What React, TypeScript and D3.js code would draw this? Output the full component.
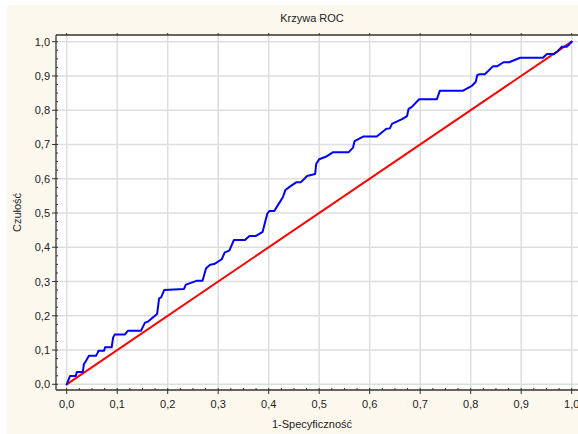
import React from "react";
import * as d3 from "d3";

const rocX = [0, 0.0065, 0.018, 0.02, 0.032, 0.034, 0.037, 0.044, 0.058, 0.061, 0.063, 0.074, 0.076, 0.089, 0.092, 0.095, 0.115, 0.121, 0.147, 0.155, 0.161, 0.179, 0.183, 0.187, 0.193, 0.232, 0.236, 0.257, 0.269, 0.276, 0.284, 0.292, 0.307, 0.313, 0.322, 0.331, 0.353, 0.362, 0.375, 0.388, 0.397, 0.401, 0.411, 0.417, 0.428, 0.433, 0.442, 0.455, 0.464, 0.476, 0.492, 0.494, 0.5, 0.513, 0.527, 0.558, 0.567, 0.57, 0.587, 0.614, 0.633, 0.64, 0.644, 0.664, 0.674, 0.677, 0.683, 0.698, 0.733, 0.739, 0.785, 0.803, 0.81, 0.813, 0.818, 0.828, 0.844, 0.852, 0.865, 0.876, 0.898, 0.943, 0.951, 0.965, 0.973, 0.98, 0.99, 0.995, 1.0];
const rocY = [0, 0.024, 0.024, 0.036, 0.036, 0.059, 0.065, 0.083, 0.083, 0.091, 0.098, 0.098, 0.108, 0.108, 0.137, 0.145, 0.145, 0.156, 0.156, 0.18, 0.183, 0.205, 0.251, 0.254, 0.275, 0.278, 0.291, 0.302, 0.302, 0.339, 0.349, 0.351, 0.365, 0.385, 0.39, 0.421, 0.421, 0.433, 0.433, 0.445, 0.497, 0.506, 0.506, 0.52, 0.546, 0.567, 0.577, 0.59, 0.59, 0.608, 0.614, 0.643, 0.657, 0.664, 0.677, 0.677, 0.691, 0.71, 0.723, 0.723, 0.746, 0.747, 0.76, 0.774, 0.783, 0.804, 0.809, 0.832, 0.832, 0.857, 0.857, 0.872, 0.883, 0.903, 0.905, 0.905, 0.928, 0.928, 0.94, 0.94, 0.953, 0.953, 0.964, 0.964, 0.973, 0.985, 0.985, 0.992, 1.0];
const refX = [0, 1];
const refY = [0, 1];
const tickValues = [0, 0.1, 0.2, 0.3, 0.4, 0.5, 0.6, 0.7, 0.8, 0.9, 1.0];
const tickLabels = ["0,0", "0,1", "0,2", "0,3", "0,4", "0,5", "0,6", "0,7", "0,8", "0,9", "1,0"];
const minorTicks = d3.range(0, 41).map((i) => i * 0.025);

const W = 578;
const H = 434;
const left = 56;
const top = 35;
const bottom = 390;
const right = 590;

export default function App() {
  const x = d3.scaleLinear().domain([0, 1]).range([66.7, 571.7]);
  const y = d3.scaleLinear().domain([0, 1]).range([384.3, 41.7]);
  const line = d3
    .line<number>()
    .x((_, i) => x(rocX[i]))
    .y((d) => y(d));
  const refLine = d3
    .line<number>()
    .x((_, i) => x(refX[i]))
    .y((d) => y(d));
  const font = "'Liberation Sans', Arial, sans-serif";

  return (
    <svg
      width={W}
      height={H}
      style={{ position: "absolute", left: 0, top: 0, display: "block" }}
      fontFamily={font}
    >
      <rect x={0} y={0} width={W} height={H} fill="#ffffff" />
      <rect x={7} y={5} width={W - 7} height={H - 5} fill="#fdf8ee" />
      <rect x={left} y={top} width={right - left} height={bottom - top} fill="#ffffff" />
      <defs>
        <clipPath id="plotclip">
          <rect x={left} y={top} width={right - left} height={bottom - top} />
        </clipPath>
      </defs>
      {/* grid */}
      <g stroke="#dedede" strokeWidth={1.5}>
        {tickValues.map((t, i) => (
          <line key={"gx" + i} x1={x(t)} x2={x(t)} y1={top} y2={bottom} />
        ))}
        {tickValues.map((t, i) => (
          <line key={"gy" + i} x1={left} x2={right} y1={y(t)} y2={y(t)} />
        ))}
      </g>
      {/* curves */}
      <g clipPath="url(#plotclip)" fill="none" strokeLinejoin="round" strokeLinecap="round">
        <path d={refLine(refY) || ""} stroke="#ff0000" strokeWidth={2} />
        <path d={line(rocY) || ""} stroke="#0000ff" strokeWidth={2} />
      </g>
      {/* frame */}
      <g stroke="#333333" strokeWidth={1.3}>
        <line x1={left} x2={left} y1={top} y2={bottom} />
        <line x1={left} x2={right} y1={bottom} y2={bottom} />
        <line x1={left} x2={right} y1={top} y2={top} />
      </g>
      {/* ticks */}
      <g stroke="#333333" strokeWidth={1}>
        {tickValues.map((t, i) => (
          <line key={"tx" + i} x1={x(t)} x2={x(t)} y1={bottom} y2={bottom + 4} />
        ))}
        {tickValues.map((t, i) => (
          <line key={"tt" + i} x1={x(t)} x2={x(t)} y1={top} y2={top - 2} />
        ))}
        {tickValues.map((t, i) => (
          <line key={"ty" + i} x1={left} x2={left - 4} y1={y(t)} y2={y(t)} />
        ))}
        {minorTicks.map((t, i) => (
          <line key={"mx" + i} x1={x(t)} x2={x(t)} y1={bottom} y2={bottom - 2} />
        ))}
        {minorTicks.map((t, i) => (
          <line key={"my" + i} x1={left} x2={left + 2} y1={y(t)} y2={y(t)} />
        ))}
      </g>
      {/* tick labels */}
      <g fontSize={11} fill="#222222">
        {tickValues.map((t, i) => (
          <text key={"lx" + i} x={x(t)} y={bottom + 18} textAnchor="middle">
            {tickLabels[i]}
          </text>
        ))}
        {tickValues.map((t, i) => (
          <text key={"ly" + i} x={left - 6} y={y(t) + 4} textAnchor="end">
            {tickLabels[i]}
          </text>
        ))}
      </g>
      <text x={312} y={22} fontSize={11} textAnchor="middle" fill="#222222">
        Krzywa ROC
      </text>
      <text x={312} y={428} fontSize={11} textAnchor="middle" fill="#222222">
        1-Specyficzność
      </text>
      <text
        transform={`translate(21,${(top + bottom) / 2}) rotate(-90)`}
        fontSize={11}
        textAnchor="middle"
        fill="#222222"
      >
        Czułość
      </text>
    </svg>
  );
}
